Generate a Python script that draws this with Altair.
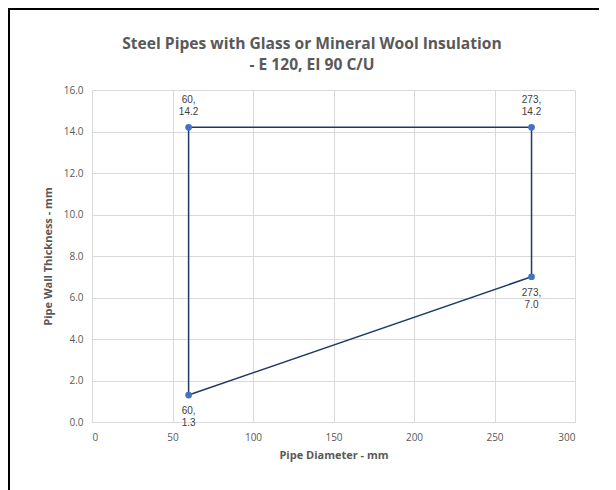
import altair as alt
import pandas as pd

# Data
diam = [60, 60, 273, 273]
thick = [1.3, 14.2, 14.2, 7.0]
label_pos = ["below", "above", "above", "below"]
path_order = [0, 1, 2, 3, 4]
title_lines = ["Steel Pipes with Glass or Mineral Wool Insulation", "- E 120, EI 90 C/U"]

labels = [f"{d},\n{t:.1f}" for d, t in zip(diam, thick)]
pts = pd.DataFrame({"d": diam, "t": thick, "lab": labels, "pos": label_pos})
path = pd.DataFrame({"d": diam + [diam[0]], "t": thick + [thick[0]], "o": path_order})
title_df = pd.DataFrame({"txt": ["\n".join(title_lines)]})

W, H = 483, 332
FONT = "Open Sans"
GREY = "#595959"

xs = alt.Scale(domain=[0, 300], nice=False)
ys = alt.Scale(domain=[0, 16], nice=False)

xax = alt.Axis(values=[0, 50, 100, 150, 200, 250, 300], title="Pipe Diameter - mm",
               grid=True, gridColor="#d9d9d9", domain=True, domainColor="#d9d9d9",
               ticks=False, labelPadding=10, titlePadding=7, labelFont=FONT, labelFontSize=10,
               labelColor=GREY, titleFont=FONT, titleFontSize=11, titleFontWeight="bold",
               titleColor=GREY)
yax = alt.Axis(values=[0, 2, 4, 6, 8, 10, 12, 14, 16], format=".1f",
               title="Pipe Wall Thickness - mm", grid=True, gridColor="#d9d9d9",
               domain=False, ticks=False, labelPadding=9, titlePadding=10, labelFont=FONT,
               labelFontSize=10, labelColor=GREY, titleFont=FONT, titleFontSize=11,
               titleFontWeight="bold", titleColor=GREY)

line = alt.Chart(path).mark_line(color="#203864", strokeWidth=1.5).encode(
    x=alt.X("d:Q", scale=xs, axis=xax),
    y=alt.Y("t:Q", scale=ys, axis=yax),
    order="o:Q",
)
points = alt.Chart(pts).mark_circle(color="#4472C4", size=45, opacity=1).encode(
    x=alt.X("d:Q", scale=xs), y=alt.Y("t:Q", scale=ys)
)
above = alt.Chart(pts).transform_filter("datum.pos == 'above'").mark_text(
    baseline="middle", dy=-27, font="Liberation Sans", fontSize=10, color="#404040",
    lineBreak="\n", lineHeight=12
).encode(x=alt.X("d:Q", scale=xs), y=alt.Y("t:Q", scale=ys), text="lab:N")
below = alt.Chart(pts).transform_filter("datum.pos == 'below'").mark_text(
    baseline="middle", dy=16, font="Liberation Sans", fontSize=10, color="#404040",
    lineBreak="\n", lineHeight=12
).encode(x=alt.X("d:Q", scale=xs), y=alt.Y("t:Q", scale=ys), text="lab:N")

frame = alt.Chart(title_df).mark_rect(fill=None, stroke="black", strokeWidth=2).encode(
    x=alt.value(-83), x2=alt.value(522), y=alt.value(-81), y2=alt.value(430)
)
title = alt.Chart(title_df).mark_text(
    baseline="middle", align="center", font=FONT, fontSize=15.6, fontWeight="bold",
    color=GREY, lineBreak="\n", lineHeight=21
).encode(x=alt.value(220), y=alt.value(-46), text="txt:N")

chart = alt.layer(frame, line, points, above, below, title).properties(
    width=W, height=H,
    autosize=alt.AutoSizeParams(type="none"),
    padding={"left": 84, "top": 82, "right": 24, "bottom": 70},
).configure_view(stroke=None)

chart.save("out.html", embed_options={"renderer": "svg", "actions": False})
